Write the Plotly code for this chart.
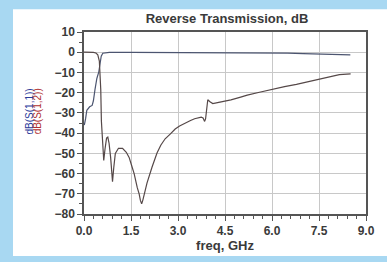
import plotly.graph_objects as go

# S(1,2): curve starting at 0 dB that dips (reverse transmission)
freq_s12 = [0.0, 0.1, 0.2, 0.3, 0.38, 0.44, 0.49, 0.52, 0.535, 0.555, 0.58, 0.63, 0.67, 0.72, 0.76,
            0.8, 0.85, 0.91, 0.95, 1.0, 1.1, 1.23, 1.35, 1.44, 1.52, 1.6, 1.70, 1.76, 1.80, 1.84,
            1.88, 1.91, 2.01, 2.17, 2.33, 2.45, 2.59, 2.75, 2.91, 3.05, 3.22, 3.4, 3.53, 3.65, 3.74,
            3.80, 3.85, 3.88, 3.92, 3.95, 4.02, 4.11, 4.3, 4.58, 4.69, 5.0, 5.21, 5.6, 6.05, 6.4,
            6.78, 7.1, 7.52, 7.8, 8.15, 8.51]
s12_db = [0.0, 0.0, 0.0, -0.1, -0.4, -1.3, -4.4, -10.7, -18.5, -34.0, -43.5, -53.5, -48.0, -42.5, -42.0,
          -45.0, -52.0, -64.0, -57.0, -50.0, -47.5, -47.5, -49.5, -52.0, -56.0, -60.0, -67.0, -70.0, -73.3, -75.0,
          -73.0, -70.7, -64.7, -56.9, -49.8, -46.0, -42.8, -40.5, -38.0, -36.5, -35.0, -33.8, -32.9, -32.5, -32.1,
          -32.5, -34.2, -33.0, -27.0, -23.5, -24.5, -25.4, -24.8, -24.2, -23.6, -22.2, -21.2, -19.8, -18.1, -17.0,
          -15.9, -14.8, -13.1, -12.2, -11.1, -10.7]

# S(1,1): curve rising from about -36 dB to 0 dB
freq_s11 = [0.01, 0.03, 0.05, 0.09, 0.18, 0.26, 0.30, 0.35, 0.41, 0.47, 0.52, 0.55, 0.60, 0.7, 0.81,
            1.5, 3.0, 4.5, 6.0, 6.5, 7.0, 7.5, 8.0, 8.5]
s11_db = [-36.0, -35.0, -33.0, -28.7, -27.0, -26.3, -24.0, -18.5, -13.0, -9.9, -5.2, -2.0, -0.5, -0.2, -0.1,
          -0.1, -0.1, -0.1, -0.2, -0.4, -0.7, -0.9, -1.1, -1.3]

x_ticks = [0.0, 1.5, 3.0, 4.5, 6.0, 7.5, 9.0]
x_tick_labels = ["0.0", "1.5", "3.0", "4.5", "6.0", "7.5", "9.0"]
y_ticks = [10, 0, -10, -20, -30, -40, -50, -60, -70, -80]

W, H = 387, 262
L, R, T, B = 84, 17, 32, 39
pw, ph = W - L - R, H - T - B

fig = go.Figure()
fig.add_trace(go.Scatter(x=freq_s11, y=s11_db, mode="lines", name="dB(S(1,1))",
                         line=dict(color="#4c5570", width=1.2)))
fig.add_trace(go.Scatter(x=freq_s12, y=s12_db, mode="lines", name="dB(S(1,2))",
                         line=dict(color="#554848", width=1.2)))

fig.add_shape(type="rect", xref="paper", yref="paper",
              x0=(12 - L) / pw, x1=(W + 5 - L) / pw,
              y0=(H - B - (H + 5)) / ph, y1=(H - B - 8) / ph,
              fillcolor="white", line=dict(width=0), layer="below")

font = dict(family="Liberation Sans, Arial, sans-serif", color="#3a3a3a")

fig.update_layout(
    width=W, height=H,
    margin=dict(l=L, r=R, t=T, b=B),
    paper_bgcolor="#a8d8f2",
    plot_bgcolor="white",
    showlegend=False,
    font=dict(**font, size=11),
    title=dict(text="<b>Reverse Transmission, dB</b>", x=(227) / W, xanchor="center",
               y=1 - 18 / H, yanchor="middle", font=dict(**font, size=13)),
    xaxis=dict(range=[0, 9], tickvals=x_ticks, ticktext=x_tick_labels,
               showgrid=True, gridcolor="#c8c8c8", gridwidth=1,
               showline=True, linecolor="#555555", linewidth=1.5, mirror=True,
               ticks="outside", ticklen=5, tickcolor="#555555",
               minor=dict(dtick=0.3, ticks="outside", ticklen=3, tickcolor="#555555", showgrid=False),
               tickfont=dict(family="Liberation Sans, Arial, sans-serif", color="#3a3a3a", size=12, weight="bold"),
               zeroline=False,
               title=dict(text="<b>freq, GHz</b>", font=dict(**font, size=13), standoff=3)),
    yaxis=dict(range=[-80, 10], tickvals=y_ticks,
               showgrid=True, gridcolor="#c8c8c8", gridwidth=1,
               showline=True, linecolor="#555555", linewidth=1.5, mirror=True,
               ticks="outside", ticklen=5, tickcolor="#555555",
               minor=dict(dtick=5, ticks="outside", ticklen=3, tickcolor="#555555", showgrid=False),
               tickfont=dict(family="Liberation Sans, Arial, sans-serif", color="#3a3a3a", size=12, weight="bold"),
               zeroline=False),
)

fig.add_annotation(text="dB(S(1,1))", xref="paper", yref="paper",
                   x=(21 - L) / pw, y=(H - B - 115) / ph, textangle=-90,
                   showarrow=False, font=dict(family=font["family"], size=10, color="#2a3a9a"))
fig.add_annotation(text="dB(S(1,2))", xref="paper", yref="paper",
                   x=(29 - L) / pw, y=(H - B - 115) / ph, textangle=-90,
                   showarrow=False, font=dict(family=font["family"], size=10, color="#b03030"))

fig.write_html("out.html", config={"displayModeBar": False},
               post_script="document.body.style.margin='0';document.body.style.overflow='hidden';")
